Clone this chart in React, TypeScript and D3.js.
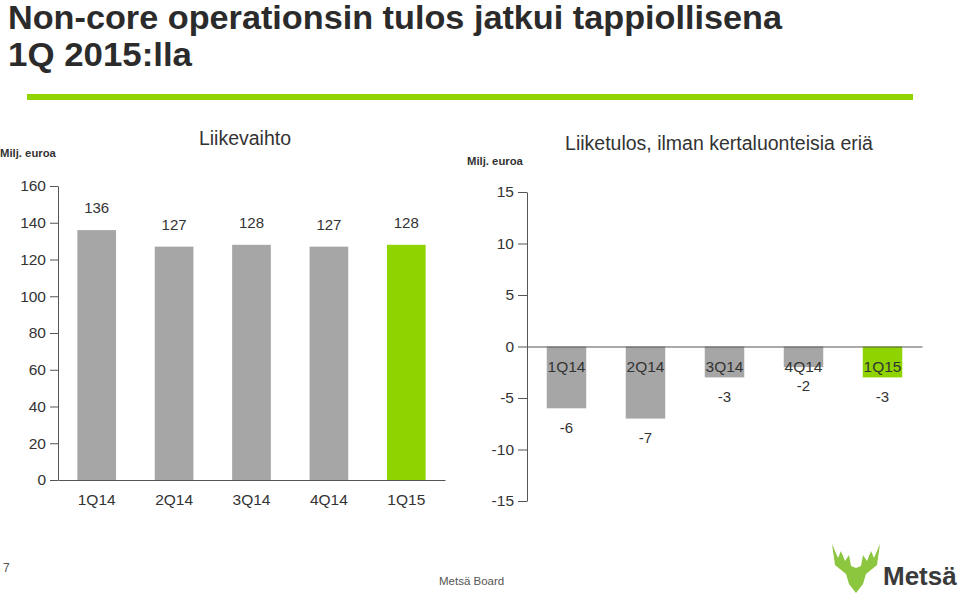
import React, { FC, useEffect, useRef } from "react";
import * as d3 from "d3";

const quarters = ["1Q14", "2Q14", "3Q14", "4Q14", "1Q15"];
const salesValues = [136, 127, 128, 127, 128];
const ebitValues = [-6, -7, -3, -2, -3];
const salesTicks = [0, 20, 40, 60, 80, 100, 120, 140, 160];
const ebitTicks = [-15, -10, -5, 0, 5, 10, 15];

const GREY = "#a6a6a6";
const GREEN = "#8fd400";
const TEXT = "#333";
const FONT = "'Liberation Sans', Arial, sans-serif";

const App: FC = () => {
    const svgRef = useRef<SVGSVGElement>(null);

    useEffect(() => {
        if (!svgRef.current) return;
        const svg = d3.select(svgRef.current);
        svg.selectAll("*").remove();

        // Title
        const title = svg.append("g")
            .style("font-family", "'Liberation Sans Narrow', 'Arial Narrow', 'Liberation Sans', sans-serif")
            .style("font-weight", "bold")
            .style("font-size", "33px")
            .style("fill", "#2b2b2b");
        title.append("text").attr("x", 8).attr("y", 29)
            .attr("textLength", 774).attr("lengthAdjust", "spacingAndGlyphs")
            .text("Non-core operationsin tulos jatkui tappiollisena");
        title.append("text").attr("x", 8).attr("y", 66)
            .attr("textLength", 184).attr("lengthAdjust", "spacingAndGlyphs")
            .text("1Q 2015:lla");

        // Green rule under title
        svg.append("rect")
            .attr("x", 27).attr("y", 94).attr("width", 886).attr("height", 6)
            .attr("fill", "#92d400");

        const fmt = (d: d3.NumberValue) => String(d);

        // ---------- Left chart: Liikevaihto ----------
        const xL = d3.scaleBand().domain(quarters).range([58, 445]).paddingInner(0.5).paddingOuter(0.25);
        const yL = d3.scaleLinear().domain([0, 160]).range([480, 186]);

        const left = svg.append("g").style("font-family", FONT);

        left.append("text").attr("x", 0).attr("y", 157)
            .style("font-size", "11.3px").style("font-weight", "bold").style("fill", TEXT)
            .text("Milj. euroa");
        left.append("text").attr("x", 245).attr("y", 145).attr("text-anchor", "middle")
            .style("font-size", "19.5px").style("fill", TEXT)
            .text("Liikevaihto");

        left.selectAll(".bar")
            .data(salesValues)
            .enter()
            .append("rect")
            .attr("x", (d, i) => xL(quarters[i]) || 0)
            .attr("width", xL.bandwidth())
            .attr("y", d => yL(d))
            .attr("height", d => yL(0) - yL(d))
            .attr("fill", (d, i) => (i === quarters.length - 1 ? GREEN : GREY));

        left.selectAll(".val")
            .data(salesValues)
            .enter()
            .append("text")
            .attr("x", (d, i) => (xL(quarters[i]) || 0) + xL.bandwidth() / 2)
            .attr("y", d => yL(d) - 22)
            .attr("dy", "0.35em")
            .attr("text-anchor", "middle")
            .style("font-size", "15px")
            .style("fill", TEXT)
            .text(d => d);

        const axL = left.append("g")
            .attr("transform", "translate(58,0)")
            .call(d3.axisLeft(yL).tickValues(salesTicks).tickFormat(fmt).tickSize(8).tickSizeOuter(0).tickPadding(4));
        axL.selectAll("text").style("font-size", "15.5px").style("font-family", FONT).style("fill", TEXT);
        axL.selectAll("line, path").attr("stroke", "#555");

        const axLB = left.append("g")
            .attr("transform", `translate(0,${yL(0)})`)
            .call(d3.axisBottom(xL).tickSize(0).tickSizeOuter(0).tickPadding(14));
        axLB.selectAll("text").style("font-size", "15.5px").style("font-family", FONT).style("fill", TEXT);
        axLB.select(".domain").attr("stroke", "#555");

        // ---------- Right chart: Liiketulos ----------
        const xR = d3.scaleBand().domain(quarters).range([527, 922]).paddingInner(0.5).paddingOuter(0.25);
        const yR = d3.scaleLinear().domain([-15, 15]).range([501, 192]);

        const right = svg.append("g").style("font-family", FONT);

        right.append("text").attr("x", 467).attr("y", 165)
            .style("font-size", "11.3px").style("font-weight", "bold").style("fill", TEXT)
            .text("Milj. euroa");
        right.append("text").attr("x", 719).attr("y", 150).attr("text-anchor", "middle")
            .style("font-size", "19.5px").style("fill", TEXT)
            .text("Liiketulos, ilman kertaluonteisia eriä");

        right.selectAll(".bar")
            .data(ebitValues)
            .enter()
            .append("rect")
            .attr("x", (d, i) => xR(quarters[i]) || 0)
            .attr("width", xR.bandwidth())
            .attr("y", d => yR(Math.max(0, d)))
            .attr("height", d => Math.abs(yR(d) - yR(0)))
            .attr("fill", (d, i) => (i === quarters.length - 1 ? GREEN : GREY));

        right.selectAll(".val")
            .data(ebitValues)
            .enter()
            .append("text")
            .attr("x", (d, i) => (xR(quarters[i]) || 0) + xR.bandwidth() / 2)
            .attr("y", d => yR(d) + 19)
            .attr("dy", "0.35em")
            .attr("text-anchor", "middle")
            .style("font-size", "15px")
            .style("fill", TEXT)
            .text(d => d);

        const axR = right.append("g")
            .attr("transform", "translate(527,0)")
            .call(d3.axisLeft(yR).tickValues(ebitTicks).tickFormat(fmt).tickSize(9).tickSizeOuter(0).tickPadding(4));
        axR.selectAll("text").style("font-size", "15.5px").style("font-family", FONT).style("fill", TEXT);
        axR.selectAll("line, path").attr("stroke", "#555");

        const axRB = right.append("g")
            .attr("transform", `translate(0,${yR(0)})`)
            .call(d3.axisBottom(xR).tickSize(0).tickSizeOuter(0).tickPadding(14));
        axRB.selectAll("text").style("font-size", "15.5px").style("font-family", FONT).style("fill", TEXT);
        axRB.select(".domain").attr("stroke", "#555");

        // ---------- Footer ----------
        const foot = svg.append("g").style("font-family", FONT).style("fill", "#555");
        foot.append("text").attr("x", 3).attr("y", 572).style("font-size", "12px").text("7");
        foot.append("text").attr("x", 439).attr("y", 585).style("font-size", "11.5px").text("Metsä Board");

        // Logo
        svg.append("path")
            .attr("d", "M832,544 L838,558 L841,551 L845,561 L849,555 L851,566 L856,568 L861,566 L863,555 L867,561 L871,551 L874,558 L880,544 L877,565 L866,574 L863,584 L856,593 L849,584 L846,574 L835,565 Z")
            .attr("fill", "#8cc63f");
        svg.append("text").attr("x", 883).attr("y", 585)
            .style("font-family", FONT).style("font-weight", "bold").style("font-size", "26px")
            .style("fill", "#3a3a3a")
            .text("Metsä");
    }, []);

    return (
        <svg
            ref={svgRef}
            width={960}
            height={595}
            style={{ position: "absolute", left: 0, top: 0, background: "#fff" }}
        />
    );
};

export default App;
